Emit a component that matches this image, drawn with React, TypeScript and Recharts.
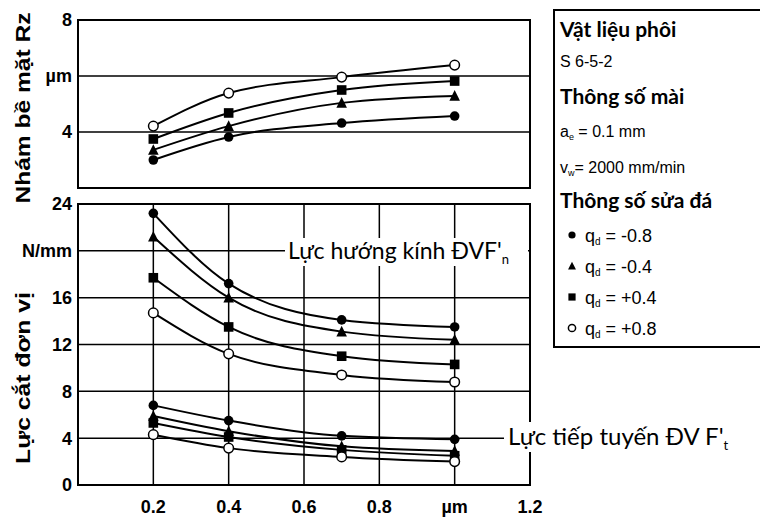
import React from 'react';
import { LineChart, Line, XAxis, YAxis, CartesianGrid, ReferenceArea } from 'recharts';

// measured feed values (x axis, µm)
const xValues = [0.2, 0.4, 0.7, 1.0];
const xTicks = [0.2, 0.4, 0.6, 0.8, 1.0, 1.2];
const rzTicks = [4, 6, 8];
const forceTicks = [0, 4, 8, 12, 16, 20, 24];

// surface roughness Rz, µm
const rzQm08 = [3.0, 3.82, 4.32, 4.57];
const rzQm04 = [3.36, 4.21, 5.04, 5.29];
const rzQp04 = [3.75, 4.68, 5.5, 5.82];
const rzQp08 = [4.21, 5.39, 5.96, 6.39];

// radial force F'n, N/mm
const fnQm08 = [23.2, 17.2, 14.1, 13.5];
const fnQm04 = [21.2, 16.0, 13.1, 12.4];
const fnQp04 = [17.7, 13.5, 11.0, 10.3];
const fnQp08 = [14.7, 11.2, 9.4, 8.8];

// tangential force F't, N/mm
const ftQm08 = [6.8, 5.5, 4.2, 3.9];
const ftQm04 = [5.9, 4.6, 3.3, 2.9];
const ftQp04 = [5.3, 4.1, 3.0, 2.5];
const ftQp08 = [4.3, 3.15, 2.4, 2.0];

const series = [
  { key: 'qm08', shape: 'filled', label: '-0.8', rz: rzQm08, fn: fnQm08, ft: ftQm08 },
  { key: 'qm04', shape: 'triangle', label: '-0.4', rz: rzQm04, fn: fnQm04, ft: ftQm04 },
  { key: 'qp04', shape: 'square', label: '+0.4', rz: rzQp04, fn: fnQp04, ft: ftQp04 },
  { key: 'qp08', shape: 'open', label: '+0.8', rz: rzQp08, fn: fnQp08, ft: ftQp08 },
];

const rows = xValues.map((x, i) => {
  const row: Record<string, number> = { x };
  series.forEach(s => {
    row['rz_' + s.key] = s.rz[i];
    row['fn_' + s.key] = s.fn[i];
    row['ft_' + s.key] = s.ft[i];
  });
  return row;
});

const tickFont = "'Liberation Sans Narrow', 'Liberation Sans', Arial, sans-serif";
const textFont = "Lato, 'Open Sans', sans-serif";

const Marker = ({ shape, cx, cy, size = 1 }: { shape: string; cx: number; cy: number; size?: number }) => {
  const r = 4.8 * size;
  if (shape === 'filled') return <circle cx={cx} cy={cy} r={r} fill="#000" />;
  if (shape === 'triangle')
    return <path d={`M${cx},${cy - r * 1.2}L${cx + r * 1.1},${cy + r}L${cx - r * 1.1},${cy + r}Z`} fill="#000" />;
  if (shape === 'square') return <rect x={cx - r} y={cy - r} width={r * 2} height={r * 2} fill="#000" />;
  return <circle cx={cx} cy={cy} r={r} fill="#fff" stroke="#000" strokeWidth={1.5} />;
};

const makeDot = (shape: string) => (props: any) => {
  const { cx, cy } = props;
  if (cx == null || cy == null) return <g key={`e-${shape}-${props.index}`} />;
  return (
    <g key={`${shape}-${props.index}`}>
      <Marker shape={shape} cx={cx} cy={cy} />
    </g>
  );
};

const tickStyle = { fill: '#000', fontSize: 18, fontWeight: 'bold' as const, fontFamily: tickFont };

export default function App() {
  return (
    <div style={{ position: 'absolute', left: 0, top: 0, width: 760, height: 523, background: '#fff' }}>
      <div style={{ position: 'absolute', left: 0, top: 0 }}>
        <LineChart width={760} height={200} data={rows} margin={{ top: 20, right: 230, bottom: 11, left: 0 }}>
          <CartesianGrid stroke="#000" strokeWidth={1.5} />
          <XAxis dataKey="x" type="number" domain={[0, 1.2]} ticks={xTicks} tick={false} tickLine={false} axisLine={false} height={1} />
          <YAxis
            type="number"
            domain={[2, 8]}
            ticks={rzTicks}
            width={78}
            axisLine={false}
            tickLine={false}
            tickSize={0}
            tickMargin={6}
            tick={tickStyle}
            tickFormatter={(v: number) => (v === 6 ? 'µm' : String(v))}
          />
          <ReferenceArea x1={0} x2={1.2} y1={2} y2={8} fill="none" stroke="#000" strokeWidth={2} />
          {series.map(s => (
            <Line
              key={'rz_' + s.key}
              dataKey={'rz_' + s.key}
              type="monotone"
              stroke="#000"
              strokeWidth={2}
              dot={makeDot(s.shape)}
              isAnimationActive={false}
            />
          ))}
        </LineChart>
      </div>
      <div style={{ position: 'absolute', left: 0, top: 190 }}>
        <LineChart width={760} height={333} data={rows} margin={{ top: 14, right: 230, bottom: 8, left: 0 }}>
          <CartesianGrid stroke="#000" strokeWidth={1.5} />
          <XAxis
            dataKey="x"
            type="number"
            domain={[0, 1.2]}
            ticks={xTicks}
            height={30}
            axisLine={false}
            tickLine={false}
            tickSize={0}
            tickMargin={15}
            tick={tickStyle}
            tickFormatter={(v: number) => (v === 1 ? 'µm' : v.toFixed(1))}
          />
          <YAxis
            type="number"
            domain={[0, 24]}
            ticks={forceTicks}
            width={78}
            axisLine={false}
            tickLine={false}
            tickSize={0}
            tickMargin={6}
            tick={tickStyle}
            tickFormatter={(v: number) => (v === 20 ? 'N/mm' : String(v))}
          />
          <ReferenceArea x1={0} x2={1.2} y1={0} y2={24} fill="none" stroke="#000" strokeWidth={2} />
          {series.map(s => (
            <Line
              key={'fn_' + s.key}
              dataKey={'fn_' + s.key}
              type="monotone"
              stroke="#000"
              strokeWidth={2}
              dot={makeDot(s.shape)}
              isAnimationActive={false}
            />
          ))}
          {series.map(s => (
            <Line
              key={'ft_' + s.key}
              dataKey={'ft_' + s.key}
              type="monotone"
              stroke="#000"
              strokeWidth={2}
              dot={makeDot(s.shape)}
              isAnimationActive={false}
            />
          ))}
        </LineChart>
      </div>
      <svg width={760} height={523} style={{ position: 'absolute', left: 0, top: 0, pointerEvents: 'none' }}>
        {/* axis titles */}
        <text
          transform="translate(30,108) rotate(-90) scale(1.17,1)"
          textAnchor="middle"
          fontFamily="'Liberation Sans', Arial, sans-serif"
          fontWeight="bold"
          fontSize={21}
          fill="#000"
        >
          Nhám bề mặt Rz
        </text>
        <text
          transform="translate(30,378) rotate(-90) scale(1.18,1)"
          textAnchor="middle"
          fontFamily="'Liberation Sans', Arial, sans-serif"
          fontWeight="bold"
          fontSize={21}
          fill="#000"
        >
          Lực cắt đơn vị
        </text>

        {/* curve annotations */}
        <rect x={285} y={238} width={243} height={28} fill="#fff" />
        <text x={288} y={259} fontFamily={textFont} fontSize={23} fill="#000">
          Lực hướng kính ĐVF'<tspan fontSize={13} dy={5}>n</tspan>
        </text>
        <rect x={504} y={422} width={256} height={30} fill="#fff" />
        <text x={508} y={445} fontFamily={textFont} fontSize={24} fill="#000">
          Lực tiếp tuyến ĐV F'<tspan fontSize={13} dy={5}>t</tspan>
        </text>

        {/* legend box */}
        <rect x={554} y={10} width={220} height={337} fill="#fff" stroke="#000" strokeWidth={2} />
        <g fontFamily={textFont} fill="#000">
          <text x={560} y={37} fontSize={21} fontWeight="bold">Vật liệu phôi</text>
          <text x={560} y={67} fontSize={16} fontFamily={tickFont}>S 6-5-2</text>
          <text x={560} y={104} fontSize={21} fontWeight="bold">Thông số mài</text>
          <text x={560} y={137} fontSize={16} fontFamily={tickFont}>
            a<tspan fontSize={9} dy={3}>e</tspan><tspan dy={-3}> = 0.1 mm</tspan>
          </text>
          <text x={560} y={173} fontSize={16} fontFamily={tickFont}>
            v<tspan fontSize={9} dy={3}>w</tspan><tspan dy={-3}>= 2000 mm/min</tspan>
          </text>
          <text x={560} y={208} fontSize={21} fontWeight="bold">Thông số sửa đá</text>
          {series.map((s, i) => {
            const y = 235 + i * 31;
            return (
              <g key={'lg_' + s.key}>
                <Marker shape={s.shape} cx={572} cy={y} size={0.75} />
                <text x={585} y={y + 7} fontSize={18} fontFamily={tickFont}>
                  q<tspan fontSize={10} dy={3}>d</tspan><tspan dy={-3}> = {s.label}</tspan>
                </text>
              </g>
            );
          })}
        </g>
      </svg>
    </div>
  );
}
